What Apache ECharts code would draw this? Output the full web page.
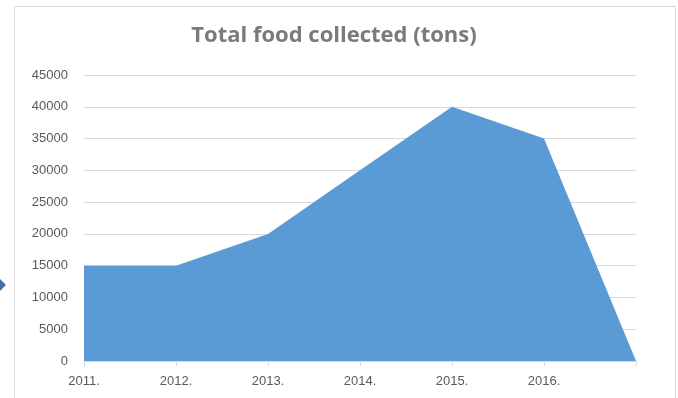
<!DOCTYPE html>
<html>
<head>
<meta charset="utf-8">
<script src="https://cdn.jsdelivr.net/npm/echarts@6/dist/echarts.min.js"></script>
<style>
  html, body { margin: 0; padding: 0; background: #fff; }
  #chart { width: 678px; height: 398px; }
</style>
</head>
<body>
<div id="chart"></div>
<script>
var years = ["2011.", "2012.", "2013.", "2014.", "2015.", "2016.", ""];
var foodTons = [15000, 15000, 20000, 30000, 40000, 35000, 0];

var myChart = echarts.init(document.getElementById("chart"));
var option = {
    backgroundColor: "#fff",
    animation: false,
    title: {
        text: "Total food collected (tons)",
        left: 329,
        textAlign: "center",
        top: 20,
        textStyle: {
            fontFamily: "Open Sans",
            fontWeight: "bold",
            fontSize: 22,
            color: "#7a7a7a"
        }
    },
    graphic: [
        {
            type: "rect",
            shape: { x: 14.5, y: 6.5, width: 661, height: 400 },
            style: { fill: "none", stroke: "#d9d9d9", lineWidth: 1 }
        },
        {
            type: "polygon",
            shape: { points: [[0, 279], [6, 285], [0, 291]] },
            style: { fill: "#41719c" }
        }
    ],
    grid: { left: 84, right: 42, top: 75, bottom: 37 },
    xAxis: {
        type: "category",
        data: years,
        boundaryGap: false,
        axisLine: { lineStyle: { color: "#d9d9d9" } },
        axisTick: { show: true, length: 5, lineStyle: { color: "#d9d9d9" } },
        axisLabel: { color: "#595959", fontSize: 13, fontFamily: "Liberation Sans", margin: 14 }
    },
    yAxis: {
        type: "value",
        min: 0,
        max: 45000,
        interval: 5000,
        axisLine: { show: false },
        axisTick: { show: false },
        splitLine: { lineStyle: { color: "#d9d9d9" } },
        axisLabel: {
            color: "#595959", fontSize: 13, fontFamily: "Liberation Sans", margin: 16,
            formatter: function (v) { return String(v); }
        }
    },
    series: [{
        type: "line",
        data: foodTons,
        symbol: "none",
        lineStyle: { width: 0 },
        areaStyle: { color: "#5b9bd5", opacity: 1 },
        z: 1
    }]
};
myChart.setOption(option);
</script>
</body>
</html>
